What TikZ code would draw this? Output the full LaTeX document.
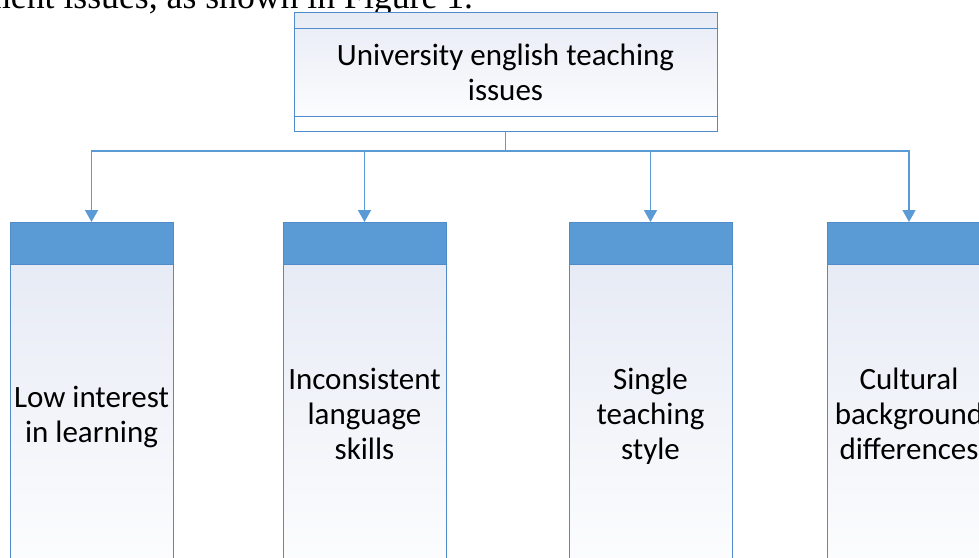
\documentclass[tikz,border=0pt]{standalone}
\usepackage{fontspec}
\setmainfont{Carlito}
\newfontfamily\pagefont{Liberation Serif}
\usetikzlibrary{arrows.meta}
\definecolor{lineblue}{HTML}{5B9BD5}
\definecolor{edgeblue}{HTML}{4F8CC9}
\definecolor{paleblue}{HTML}{E7EBF5}
\definecolor{headblue}{HTML}{5B9BD5}
\tikzset{
  boxtext/.style={font=\fontsize{31}{35}\selectfont, align=center, text=black},
  headbox/.style={draw=edgeblue, line width=1pt, fill=headblue, minimum width=163pt, minimum height=42pt, inner sep=0pt, outer sep=0pt},
  bodybox/.style={draw=edgeblue, line width=1pt, top color=paleblue, bottom color=white, minimum width=163pt, minimum height=340pt, inner sep=0pt, outer sep=0pt},
  conn/.style={draw=lineblue, line width=1.6pt},
  arr/.style={conn, -{Triangle[width=13pt,length=12pt]}}
}
\begin{document}
\begin{tikzpicture}[x=1pt,y=-1pt]
\useasboundingbox (0,0) rectangle (979,557);
\clip (0,0) rectangle (979,557);
% partial page text
\node[anchor=base west, inner sep=0pt, font=\pagefont\fontsize{35.7}{36}\selectfont] (pagetext) at (-17,8) {ment issues, as shown in Figure 1.};
% top box
\node[draw=edgeblue, line width=1pt, top color=paleblue, bottom color=white, minimum width=423pt, minimum height=119pt, inner sep=0pt, outer sep=0pt] (top) at (505.5,71.5) {};
\draw[edgeblue, line width=1pt] (294,28) -- (717,28);
\fill[white] (294.5,116.5) rectangle (716.5,130.5);
\draw[edgeblue, line width=1pt] (294,116) rectangle (717,131);
\node[boxtext] (toptext) at (505.5,72) {University english teaching\\issues};
% bottom boxes
\node[bodybox] (b1) at (91.5,434) {};
\node[headbox] (h1) at (91.5,243) {};
\node[bodybox] (b2) at (364.5,434) {};
\node[headbox] (h2) at (364.5,243) {};
\node[bodybox] (b3) at (650.5,434) {};
\node[headbox] (h3) at (650.5,243) {};
\node[bodybox] (b4) at (909,434) {};
\node[headbox] (h4) at (909,243) {};
\node[boxtext] (t1) at (91.5,417) {Low interest\\in learning};
\node[boxtext] (t2) at (364.5,414) {Inconsistent\\language\\skills};
\node[boxtext] (t3) at (650.5,416) {Single\\teaching\\style};
\node[boxtext] (t4) at (909,414) {Cultural\\background\\differences};
% connectors
\coordinate (bus) at (505.5,151);
\draw[conn] (top.south) -- (bus);
\draw[arr] (bus) -| (h1.north);
\draw[arr] (bus) -| (h2.north);
\draw[arr] (bus) -| (h3.north);
\draw[arr] (bus) -| (h4.north);
\end{tikzpicture}
\end{document}
